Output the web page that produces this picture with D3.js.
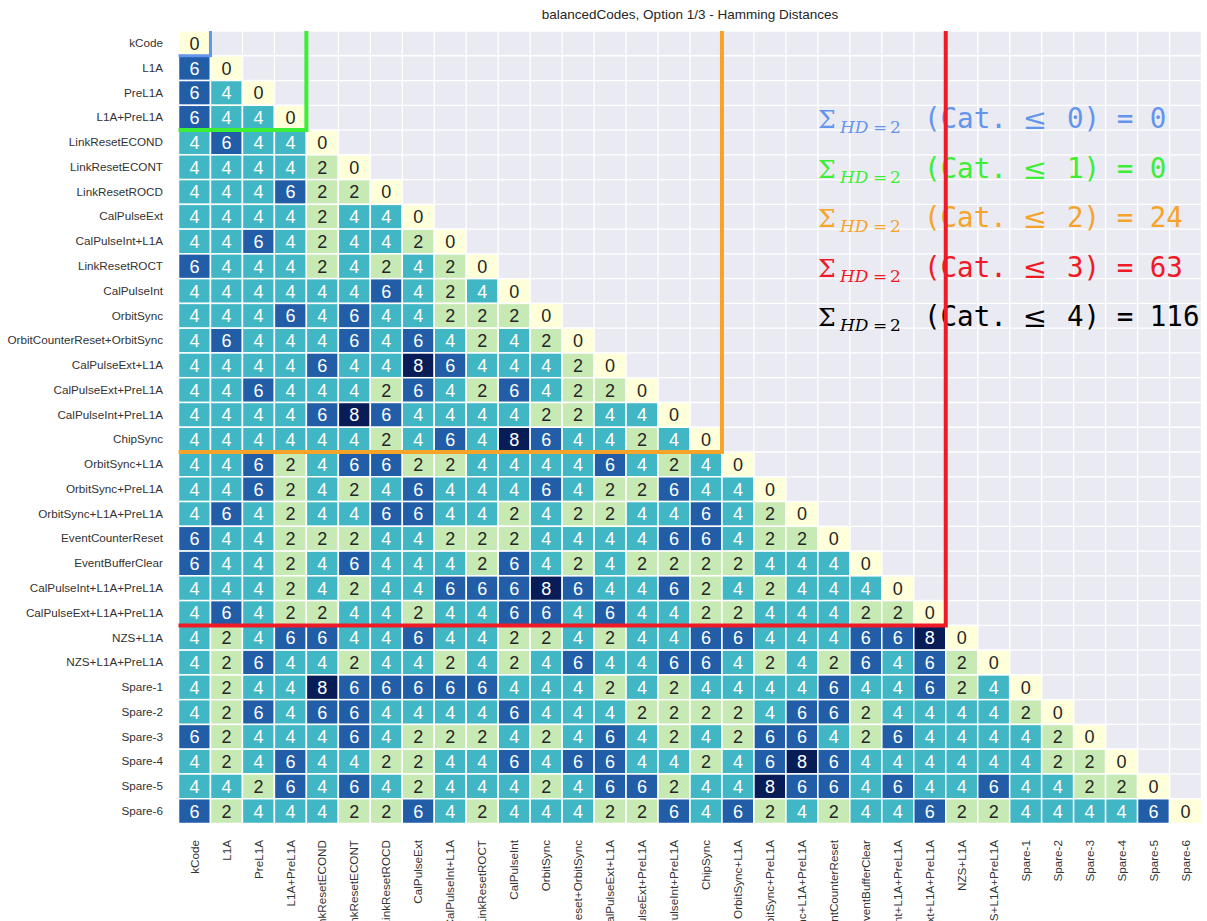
<!DOCTYPE html>
<html>
<head>
<meta charset="utf-8">
<script src="https://cdn.jsdelivr.net/npm/d3@7"></script>
<style>
  body { margin: 0; background: #fff; }
  svg { display: block; }
</style>
</head>
<body>
<svg id="chart" width="1207" height="921"></svg>
<script>
// Fast-command codes, in matrix order
const codes = [
  "kCode", "L1A", "PreL1A", "L1A+PreL1A",
  "LinkResetECOND", "LinkResetECONT", "LinkResetROCD", "CalPulseExt",
  "CalPulseInt+L1A", "LinkResetROCT", "CalPulseInt", "OrbitSync",
  "OrbitCounterReset+OrbitSync", "CalPulseExt+L1A", "CalPulseExt+PreL1A",
  "CalPulseInt+PreL1A", "ChipSync",
  "OrbitSync+L1A", "OrbitSync+PreL1A", "OrbitSync+L1A+PreL1A",
  "EventCounterReset", "EventBufferClear", "CalPulseInt+L1A+PreL1A",
  "CalPulseExt+L1A+PreL1A",
  "NZS+L1A", "NZS+L1A+PreL1A", "Spare-1", "Spare-2", "Spare-3", "Spare-4",
  "Spare-5", "Spare-6"
];

// Pairwise Hamming distances (lower triangle, row i holds columns 0..i)
const distances = [
  [0],
  [6,0],
  [6,4,0],
  [6,4,4,0],
  [4,6,4,4,0],
  [4,4,4,4,2,0],
  [4,4,4,6,2,2,0],
  [4,4,4,4,2,4,4,0],
  [4,4,6,4,2,4,4,2,0],
  [6,4,4,4,2,4,2,4,2,0],
  [4,4,4,4,4,4,6,4,2,4,0],
  [4,4,4,6,4,6,4,4,2,2,2,0],
  [4,6,4,4,4,6,4,6,4,2,4,2,0],
  [4,4,4,4,6,4,4,8,6,4,4,4,2,0],
  [4,4,6,4,4,4,2,6,4,2,6,4,2,2,0],
  [4,4,4,4,6,8,6,4,4,4,4,2,2,4,4,0],
  [4,4,4,4,4,4,2,4,6,4,8,6,4,4,2,4,0],
  [4,4,6,2,4,6,6,2,2,4,4,4,4,6,4,2,4,0],
  [4,4,6,2,4,2,4,6,4,4,4,6,4,2,2,6,4,4,0],
  [4,6,4,2,4,4,6,6,4,4,2,4,2,2,4,4,6,4,2,0],
  [6,4,4,2,2,2,4,4,2,2,2,4,4,4,4,6,6,4,2,2,0],
  [6,4,4,2,4,6,4,4,4,2,6,4,2,4,2,2,2,2,4,4,4,0],
  [4,4,4,2,4,2,4,4,6,6,6,8,6,4,4,6,2,4,2,4,4,4,0],
  [4,6,4,2,2,4,4,2,4,4,6,6,4,6,4,4,2,2,4,4,4,2,2,0],
  [4,2,4,6,6,4,4,6,4,4,2,2,4,2,4,4,6,6,4,4,4,6,6,8,0],
  [4,2,6,4,4,2,4,4,2,4,2,4,6,4,4,6,6,4,2,4,2,6,4,6,2,0],
  [4,2,4,4,8,6,6,6,6,6,4,4,4,2,4,2,4,4,4,4,6,4,4,6,2,4,0],
  [4,2,6,4,6,6,4,4,4,4,6,4,4,4,2,2,2,2,4,6,6,2,4,4,4,4,2,0],
  [6,2,4,4,4,6,4,2,2,2,4,2,4,6,4,2,4,2,6,6,4,2,6,4,4,4,4,2,0],
  [4,2,4,6,4,4,2,2,4,4,6,4,6,6,4,4,2,4,6,8,6,4,4,4,4,4,4,2,2,0],
  [4,4,2,6,4,6,4,2,4,4,4,2,4,6,6,2,4,4,8,6,6,4,6,4,4,6,4,4,2,2,0],
  [6,2,4,4,4,2,2,6,4,2,4,4,4,2,2,6,4,6,2,4,2,4,4,6,2,2,4,4,4,4,6,0]
];

// Category boundaries: index of the last code in each category
const categoryEnds = [0, 3, 16, 23, 31];
// Number of HD=2 pairs among codes of category <= k
const hd2Totals = [0, 0, 24, 63, 116];
const categoryColors = ["#6495ED", "#3CEE36", "#F5A429", "#F01A26", "#000000"];

// YlGnBu anchors over the distance range 0..8
const ylgnbu = ["#ffffd9","#edf8b1","#c7e9b4","#7fcdbb","#41b6c4",
                "#1d91c0","#225ea8","#253494","#081d58"];

const svg = d3.select("#chart");
const plotLeft = 178.5, plotRight = 1201.5, plotTop = 31, plotBottom = 823.5;

const x = d3.scaleBand().domain(codes).range([plotLeft, plotRight]).padding(0);
const y = d3.scaleBand().domain(codes).range([plotTop, plotBottom]).padding(0);
const color = d3.scaleLinear().domain(d3.range(ylgnbu.length)).range(ylgnbu);

// Axes background and white grid along cell edges
svg.append("rect")
  .attr("x", plotLeft).attr("y", plotTop)
  .attr("width", plotRight - plotLeft).attr("height", plotBottom - plotTop)
  .attr("fill", "#EAEAF2");

const grid = svg.append("g").attr("stroke", "#fff").attr("stroke-width", 1.3);
const edges = d3.range(codes.length + 1);
grid.selectAll("line.v").data(edges).join("line").attr("class", "v")
  .attr("x1", k => plotLeft + k * x.bandwidth()).attr("x2", k => plotLeft + k * x.bandwidth())
  .attr("y1", plotTop).attr("y2", plotBottom);
grid.selectAll("line.h").data(edges).join("line").attr("class", "h")
  .attr("y1", k => plotTop + k * y.bandwidth()).attr("y2", k => plotTop + k * y.bandwidth())
  .attr("x1", plotLeft).attr("x2", plotRight);

// Heatmap cells
const cells = [];
distances.forEach((row, i) => row.forEach((v, j) => cells.push({ r: codes[i], c: codes[j], v })));

const cellG = svg.append("g");
cellG.selectAll("rect").data(cells).join("rect")
  .attr("x", d => x(d.c)).attr("y", d => y(d.r))
  .attr("width", x.bandwidth()).attr("height", y.bandwidth())
  .attr("fill", d => color(d.v))
  .attr("stroke", "#fff").attr("stroke-width", 1.5);

cellG.selectAll("text").data(cells).join("text")
  .attr("x", d => x(d.c) + x.bandwidth() / 2)
  .attr("y", d => y(d.r) + y.bandwidth() / 2)
  .attr("dy", "0.36em")
  .attr("text-anchor", "middle")
  .attr("font-family", "Liberation Sans, Arial, sans-serif")
  .attr("font-size", 18)
  .attr("fill", d => d.v >= 4 ? "#ffffff" : "#262626")
  .text(d => d.v);

// Axes
const yAxis = svg.append("g")
  .attr("transform", `translate(${plotLeft},0)`)
  .call(d3.axisLeft(y).tickSize(0).tickPadding(15.5));
yAxis.select(".domain").remove();
yAxis.selectAll("text")
  .attr("font-family", "Liberation Sans, Arial, sans-serif")
  .attr("font-size", 11.7)
  .attr("fill", "#333");

const xAxis = svg.append("g")
  .attr("transform", `translate(0,${plotBottom})`)
  .call(d3.axisBottom(x).tickSize(0));
xAxis.select(".domain").remove();
xAxis.selectAll("text")
  .attr("transform", "rotate(-90)")
  .attr("x", -16.5).attr("y", 0).attr("dy", "0.35em")
  .attr("text-anchor", "end")
  .attr("font-family", "Liberation Sans, Arial, sans-serif")
  .attr("font-size", 11.7)
  .attr("fill", "#333");

// Title
svg.append("text")
  .attr("x", (plotLeft + plotRight) / 2).attr("y", 19)
  .attr("text-anchor", "middle")
  .attr("font-family", "Liberation Sans, Arial, sans-serif")
  .attr("font-size", 13.5)
  .attr("fill", "#262626")
  .text("balancedCodes, Option 1/3 - Hamming Distances");

// HD=2 pair counts per cumulative category
const notes = svg.append("g");
hd2Totals.forEach((total, k) => {
  const by = 128 + k * 49.6;
  const g = notes.append("g").attr("fill", categoryColors[k]);
  g.append("text")
    .attr("x", 818).attr("y", by)
    .attr("font-family", "DejaVu Serif, serif").attr("font-size", 25)
    .text("Σ");
  const sub = g.append("text").attr("y", by + 5)
    .attr("font-family", "DejaVu Serif, serif").attr("font-size", 17);
  sub.append("tspan").attr("x", 840).attr("font-style", "italic").text("HD");
  sub.append("tspan").attr("x", 873).text("=");
  sub.append("tspan").attr("x", 890).text("2");
  g.append("text")
    .attr("x", 924).attr("y", by)
    .attr("font-family", "DejaVu Sans Mono, monospace").attr("font-size", 27.5)
    .text("(Cat.");
  g.append("text")
    .attr("x", 1035).attr("y", by + 1)
    .attr("text-anchor", "middle")
    .attr("font-family", "DejaVu Serif, serif").attr("font-size", 29)
    .text("≤");
  g.append("text")
    .attr("x", 1067).attr("y", by)
    .attr("font-family", "DejaVu Sans Mono, monospace").attr("font-size", 27.5)
    .text(`${k}) = ${total}`);
});

// Category outlines: right and bottom edges of each cumulative block
const outlines = svg.append("g").attr("fill", "none").attr("stroke-linejoin", "miter");
categoryEnds.slice(0, 4).forEach((end, k) => {
  const xr = x(codes[end]) + x.bandwidth();
  const yb = y(codes[end]) + y.bandwidth();
  outlines.append("path")
    .attr("d", d3.line()([[plotLeft, yb], [xr, yb], [xr, plotTop]]))
    .attr("stroke", categoryColors[k])
    .attr("stroke-width", k === 0 ? 3 : 4);
});
</script>
</body>
</html>
